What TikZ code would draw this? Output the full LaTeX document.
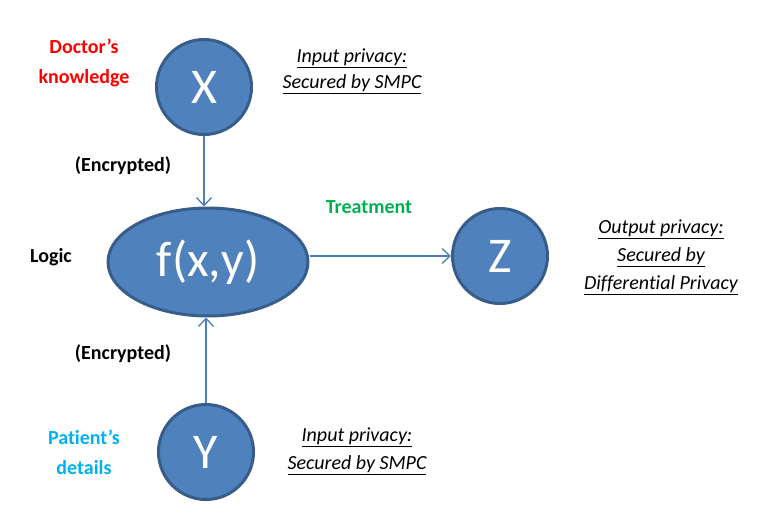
\documentclass[tikz,border=0pt]{standalone}
\usepackage{fontspec}
\setmainfont{Carlito}[Ligatures=NoCommon]
\usetikzlibrary{shapes.geometric,arrows.meta}
\definecolor{nodefill}{HTML}{4F81BD}
\definecolor{nodeline}{HTML}{385D8A}
\definecolor{arrcol}{HTML}{4A7EBB}
\definecolor{docred}{HTML}{FF0000}
\definecolor{treatgreen}{HTML}{00B050}
\definecolor{patblue}{HTML}{00B0F0}
\tikzset{
  var/.style={circle, fill=nodefill, draw=nodeline, line width=3pt, minimum size=95pt, inner sep=0pt,
    text=white, font=\fontsize{50}{56}\selectfont},
  fun/.style={ellipse, fill=nodefill, draw=nodeline, line width=3pt, minimum width=200pt, minimum height=108pt, inner sep=0pt,
    text=white, font=\fontsize{50}{56}\selectfont},
  arr/.style={draw=arrcol, line width=1.3pt, -{Straight Barb[length=8pt,width=15pt,line width=1.3pt]}},
  lbl/.style={font=\bfseries\fontsize{20}{30}\selectfont, align=center, inner sep=0pt},
  note/.style={font=\itshape\fontsize{20}{26}\selectfont, align=center, inner sep=0pt},
  note2/.style={font=\itshape\fontsize{20}{28}\selectfont, align=center, inner sep=0pt}
}
\begin{document}
\begin{tikzpicture}[x=1pt,y=-1pt]
\useasboundingbox (0,0) rectangle (777,522);
\node[var] (X) at (204,87) {X};
\node[fun] (f) at (208,262) {f(x,y)};
\node[var] (Z) at (500,256) {Z};
\node[var] (Y) at (206,452) {Y};
\draw[arr] (X) -- (X |- f.north);
\draw[arr] (Y) -- (Y |- f.south);
\draw[arr] (Z.west -| f.east) -- (Z.west);
\node[lbl, text=docred] (doc) at (84,63) {Doctor’s\\knowledge};
\node[lbl, text=patblue] (pat) at (84,452) {Patient’s\\details};
\node[lbl] (enc1) at (123,166) {(Encrypted)};
\node[lbl] (enc2) at (123,354) {(Encrypted)};
\node[lbl] (logic) at (51,257) {Logic};
\node[lbl, text=treatgreen] (treat) at (369,207) {Treatment};
\node[note] (in1) at (352,71) {\underline{Input privacy:}\\\underline{Secured by SMPC}};
\node[note2] (in2) at (357,451) {\underline{Input privacy:}\\\underline{Secured by SMPC}};
\node[note2] (out) at (661,257) {\underline{Output privacy:}\\\underline{Secured by}\\\underline{Differential Privacy}};
\end{tikzpicture}
\end{document}
